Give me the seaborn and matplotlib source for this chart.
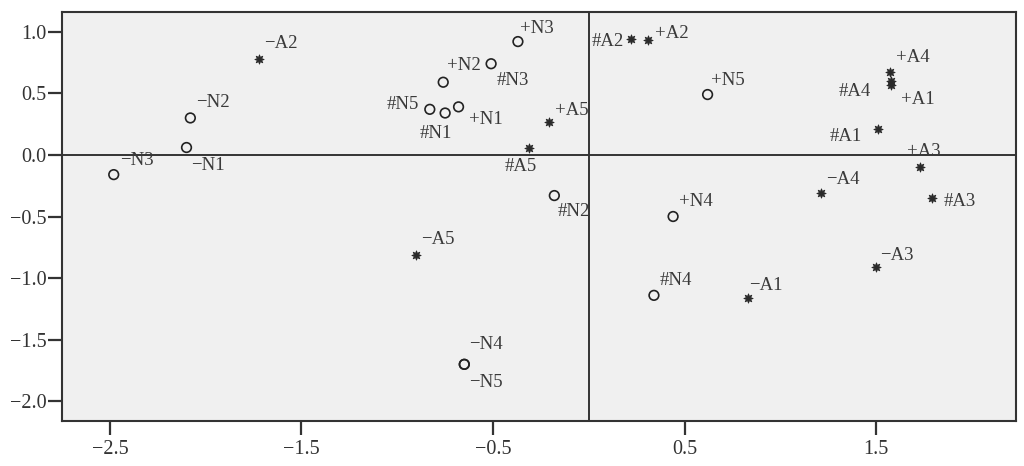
import numpy as np
import pandas as pd
import matplotlib
matplotlib.use("Agg")
import matplotlib.pyplot as plt
import seaborn as sns

# puntos del mapa (dimension 1, dimension 2)
etiquetas = ["−A2", "−N2", "−N1", "−N3", "+N2", "#N3", "+N3", "#N5", "#N1", "+N1",
             "+A5", "#A5", "#N2", "#A2", "+A2", "+N5", "+A4", "#A4", "+A1", "#A1",
             "+A3", "#A3", "−A4", "+N4", "−A5", "−N4", "−N5", "#N4", "−A1", "−A3"]
dim1 = [-1.72, -2.08, -2.10, -2.48, -0.76, -0.51, -0.37, -0.83, -0.75, -0.68,
        -0.21, -0.31, -0.18, 0.22, 0.31, 0.62, 1.57, 1.58, 1.58, 1.51,
        1.73, 1.79, 1.21, 0.44, -0.90, -0.65, -0.65, 0.34, 0.83, 1.50]
dim2 = [0.78, 0.30, 0.06, -0.16, 0.59, 0.74, 0.92, 0.37, 0.34, 0.39,
        0.27, 0.06, -0.33, 0.94, 0.93, 0.49, 0.67, 0.60, 0.57, 0.21,
        -0.10, -0.35, -0.31, -0.50, -0.81, -1.70, -1.70, -1.14, -1.16, -0.91]

xticks = [-2.5, -1.5, -0.5, 0.5, 1.5]
yticks = [1.0, 0.5, 0.0, -0.5, -1.0, -1.5, -2.0]

# desplazamiento de cada etiqueta en pixeles (dx, dy hacia abajo, alineacion)
offsets = {
    "−A2": (5, -15, "left"), "−N2": (6, -15, "left"), "−N1": (5, 18, "left"),
    "−N3": (6, -14, "left"), "+N2": (4, -17, "left"), "#N3": (6, 17, "left"),
    "+N3": (2, -13, "left"), "#N5": (-11, -5, "right"), "#N1": (-9, 20, "center"),
    "+N1": (10, 13, "left"), "+A5": (6, -11, "left"), "#A5": (-9, 19, "center"),
    "#N2": (3, 16, "left"), "#A2": (-7, 2, "right"), "+A2": (7, -7, "left"),
    "+N5": (3, -14, "left"), "+A4": (6, -15, "left"), "#A4": (-21, 11, "right"),
    "+A1": (10, 15, "left"), "#A1": (-16, 7, "right"), "+A3": (4, -16, "center"),
    "#A3": (12, 3, "left"), "−A4": (5, -14, "left"), "+N4": (6, -15, "left"),
    "−A5": (5, -15, "left"), "−N4": (5, -20, "left"), "−N5": (5, 18, "left"),
    "#N4": (6, -15, "left"), "−A1": (1, -12, "left"), "−A3": (4, -12, "left"),
}

df = pd.DataFrame({"etiqueta": etiquetas, "d1": dim1, "d2": dim2})
df["tipo"] = np.where(df["etiqueta"].str.contains("N"), "N", "A")

sns.set_style("white")
plt.rcParams["font.family"] = ["Liberation Serif", "DejaVu Serif"]

fig = plt.figure(figsize=(10.24, 4.66), dpi=100)
ax = fig.add_axes([62 / 1024, 1 - 421 / 466, 954 / 1024, 409 / 466])
ax.set_facecolor("#f0f0f0")

# lineas de referencia
ax.axhline(0, color="#333333", lw=1.4, zorder=1)
ax.axvline(0, color="#333333", lw=1.4, zorder=1)

sns.scatterplot(data=df[df["tipo"] == "N"], x="d1", y="d2", ax=ax, marker="o",
                s=48, facecolor="none", edgecolor="#222222", linewidth=1.2, zorder=3)
sns.scatterplot(data=df[df["tipo"] == "A"], x="d1", y="d2", ax=ax, marker=(8, 1, 0),
                s=45, color="#2a2a2a", edgecolor="#2a2a2a", linewidth=0.6, zorder=3)

for lab, x, y in zip(df["etiqueta"], df["d1"], df["d2"]):
    dx, dy, ha = offsets[lab]
    ax.annotate(lab, (x, y), xytext=(dx, -dy), textcoords="offset pixels",
                ha=ha, va="center", fontsize=13.5, color="#3a3a3a", zorder=4)

ax.set_xlim(-2.75, 2.23)
ax.set_ylim(-2.16, 1.16)
ax.set_xticks(xticks)
ax.set_yticks(yticks)
ax.set_xticklabels([f"{t:.1f}".replace("-", "−") for t in xticks])
ax.set_yticklabels([f"{t:.1f}".replace("-", "−") for t in yticks])
ax.set_xlabel("")
ax.set_ylabel("")
ax.tick_params(axis="x", direction="out", length=10, width=1.6, color="#333333",
               labelsize=14.5, labelcolor="#333333", pad=4, bottom=True)
ax.tick_params(axis="y", direction="out", length=10, width=1.6, color="#333333",
               labelsize=14.5, labelcolor="#333333", pad=1, left=True)
for sp in ax.spines.values():
    sp.set_color("#333333")
    sp.set_linewidth(1.5)
    sp.set_visible(True)

plt.savefig("out.png", dpi=100)
